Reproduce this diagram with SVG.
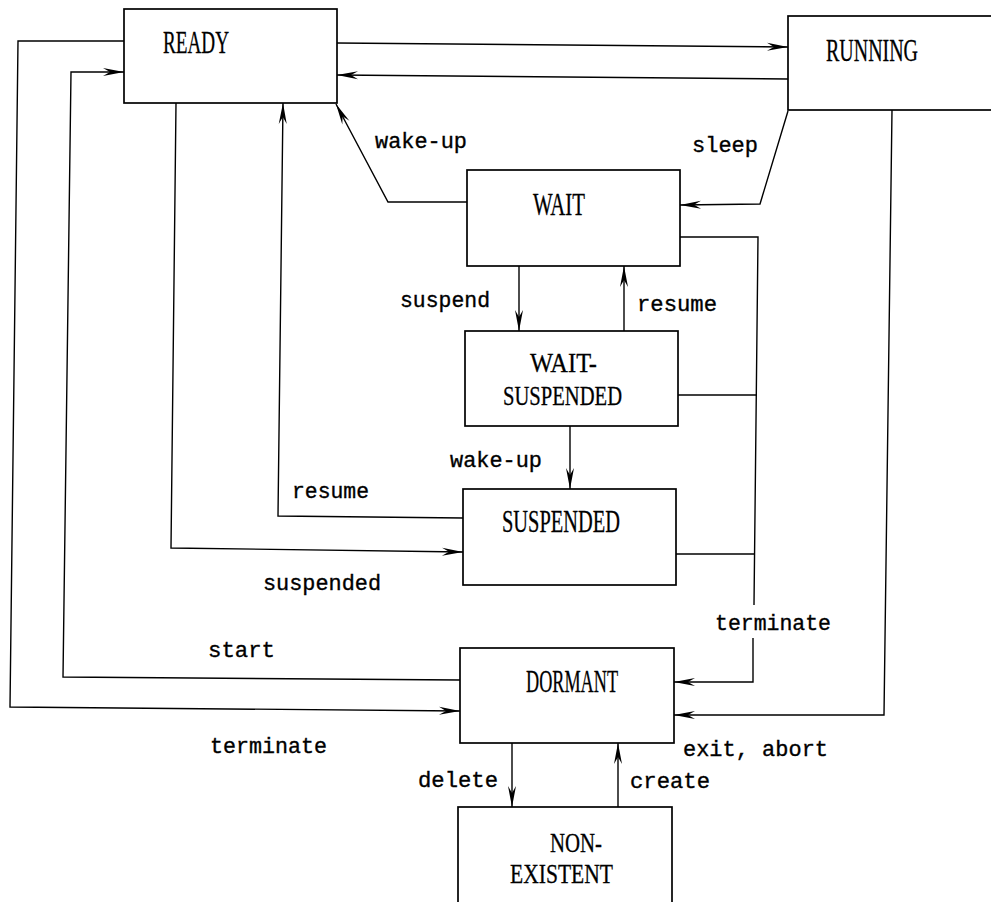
<svg xmlns="http://www.w3.org/2000/svg" width="991" height="902" viewBox="0 0 991 902">
<style>
.box{fill:#fff;stroke:#000;stroke-width:1.7}
.ln{fill:none;stroke:#000;stroke-width:1.4;stroke-linejoin:miter}
.arr{marker-end:url(#ah)}
.t{font-family:"Liberation Serif",serif;font-size:31px;fill:#000;stroke:#000;stroke-width:0.3}
.t2{font-size:28px}
.l{font-family:"Liberation Mono",monospace;font-size:22px;fill:#000;stroke:#000;stroke-width:0.35}
</style>
<defs>
<marker id="ah" markerUnits="userSpaceOnUse" markerWidth="24" markerHeight="10" refX="21" refY="4.5" orient="auto" overflow="visible">
<path d="M0,0.5 L21,4.5 L0,8.5 L7,4.5 Z" fill="#000"/>
</marker>
</defs>
<rect width="991" height="902" fill="#fff"/>
<g id="connectors">
<polyline class="ln arr" points="124,41 18,41 10,707 460,711"/>
<polyline class="ln arr" points="460,680 63,677 71,72 124,72"/>
<polyline class="ln arr" points="176,103 171,548 463,552"/>
<polyline class="ln arr" points="463,518 278,516 283,103"/>
<polyline class="ln arr" points="467,202 388,202 336,104"/>
<polyline class="ln arr" points="337,43 788,47"/>
<polyline class="ln arr" points="788,79 337,75"/>
<polyline class="ln arr" points="788,111 760,204 680,205"/>
<polyline class="ln arr" points="519,266 519,331"/>
<polyline class="ln arr" points="624,331 624,266"/>
<polyline class="ln arr" points="570,426 570,489"/>
<polyline class="ln" points="680,237 758,237 754,605"/>
<polyline class="ln" points="678,395 757,395"/>
<polyline class="ln" points="676,554 755,554"/>
<polyline class="ln arr" points="753,638 753,682 674,682"/>
<polyline class="ln arr" points="892,110 884,715 674,715"/>
<polyline class="ln arr" points="512,743 512,807"/>
<polyline class="ln arr" points="618,807 618,743"/>
</g>
<g id="labels">
<text class="l" x="375" y="148" textLength="92" lengthAdjust="spacingAndGlyphs">wake-up</text>
<text class="l" x="692" y="152" textLength="66" lengthAdjust="spacingAndGlyphs">sleep</text>
<text class="l" x="400" y="307" textLength="90" lengthAdjust="spacingAndGlyphs">suspend</text>
<text class="l" x="637" y="311" textLength="80" lengthAdjust="spacingAndGlyphs">resume</text>
<text class="l" x="450" y="467" textLength="92" lengthAdjust="spacingAndGlyphs">wake-up</text>
<text class="l" x="292" y="498" textLength="77" lengthAdjust="spacingAndGlyphs">resume</text>
<text class="l" x="263" y="590" textLength="118" lengthAdjust="spacingAndGlyphs">suspended</text>
<text class="l" x="715" y="630" textLength="116" lengthAdjust="spacingAndGlyphs">terminate</text>
<text class="l" x="208" y="657" textLength="67" lengthAdjust="spacingAndGlyphs">start</text>
<text class="l" x="210" y="753" textLength="117" lengthAdjust="spacingAndGlyphs">terminate</text>
<text class="l" x="683" y="756" textLength="145" lengthAdjust="spacingAndGlyphs">exit, abort</text>
<text class="l" x="418" y="787" textLength="80" lengthAdjust="spacingAndGlyphs">delete</text>
<text class="l" x="630" y="788" textLength="80" lengthAdjust="spacingAndGlyphs">create</text>
</g>
<g id="ready"><rect class="box" x="124" y="9" width="213" height="94"/><text class="t" x="163" y="53" textLength="66" lengthAdjust="spacingAndGlyphs">READY</text></g>
<g id="running"><rect class="box" x="788" y="16" width="230" height="94"/><text class="t" x="826" y="61" textLength="92" lengthAdjust="spacingAndGlyphs">RUNNING</text></g>
<g id="wait"><rect class="box" x="467" y="170" width="213" height="96"/><text class="t" x="533" y="215" textLength="52" lengthAdjust="spacingAndGlyphs">WAIT</text></g>
<g id="wait-suspended"><rect class="box" x="465" y="331" width="213" height="95"/><text class="t t2" x="530" y="372" textLength="67" lengthAdjust="spacingAndGlyphs">WAIT-</text><text class="t t2" x="503" y="405" textLength="119" lengthAdjust="spacingAndGlyphs">SUSPENDED</text></g>
<g id="suspended"><rect class="box" x="463" y="489" width="213" height="96"/><text class="t" x="502" y="532" textLength="118" lengthAdjust="spacingAndGlyphs">SUSPENDED</text></g>
<g id="dormant"><rect class="box" x="460" y="648" width="214" height="95"/><text class="t" x="526" y="692" textLength="92" lengthAdjust="spacingAndGlyphs">DORMANT</text></g>
<g id="non-existent"><rect class="box" x="458" y="807" width="214" height="110"/><text class="t t2" x="550" y="852" textLength="52" lengthAdjust="spacingAndGlyphs">NON-</text><text class="t t2" x="510" y="883" textLength="103" lengthAdjust="spacingAndGlyphs">EXISTENT</text></g>
</svg>
